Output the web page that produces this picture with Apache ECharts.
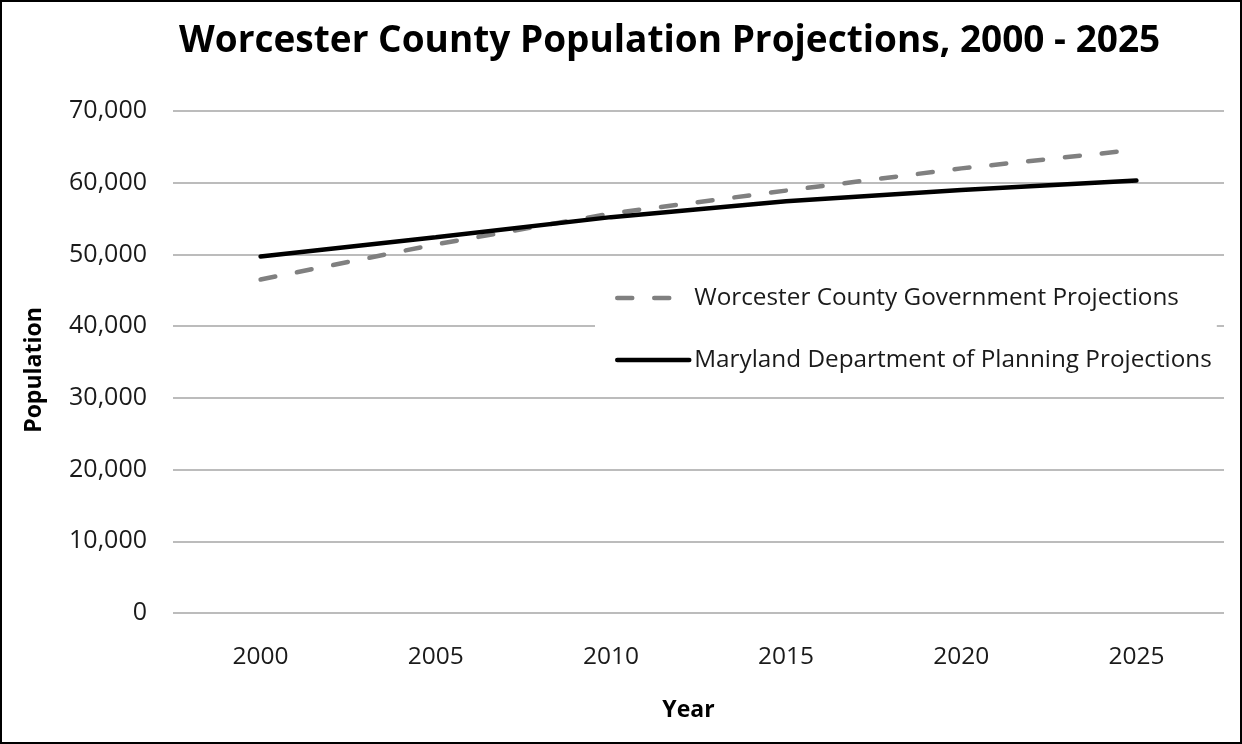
<!DOCTYPE html>
<html>
<head>
<meta charset="utf-8">
<script src="https://cdn.jsdelivr.net/npm/echarts@6/dist/echarts.min.js"></script>
<style>
html,body{margin:0;padding:0;background:#fff;}
#c{width:1242px;height:744px;box-sizing:border-box;border:2px solid #000;}
</style>
</head>
<body>
<div id="c"></div>
<script>
const years = ['2000','2005','2010','2015','2020','2025'];
const countyGov = [46500, 51400, 55700, 58900, 62000, 64600];
const mdPlanning = [49700, 52400, 55200, 57400, 59000, 60300];
const seriesNames = ['Worcester County Government Projections', 'Maryland Department of Planning Projections'];
const titleText = 'Worcester County Population Projections, 2000 - 2025';

const FONT = 'Open Sans';
const chart = echarts.init(document.getElementById('c'), null, {renderer:'canvas'});
chart.setOption({
  animation:false,
  backgroundColor:'#fff',
  title:{
    text:titleText,
    left:172, top:16,
    textStyle:{fontFamily:FONT, fontWeight:'bold', fontSize:37, color:'#000'}
  },
  grid:{left:171, right:16, top:109, bottom:129, containLabel:false},
  legend:{
    orient:'vertical',
    left:593, top:268,
    backgroundColor:'#fff',
    padding:[15,5,15,20],
    itemGap:36,
    itemWidth:72, itemHeight:14,
    itemStyle:{opacity:0, borderWidth:0},
    lineStyle:{width:4.5, cap:'round'},
    textStyle:{fontFamily:FONT, fontSize:24.3, color:'#1a1a1a', lineHeight:26, padding:[0,0,0,0]},
    data:seriesNames
  },
  xAxis:{
    type:'category', data:years, boundaryGap:true,
    name:'Year', nameLocation:'middle', nameGap:86,
    nameTextStyle:{fontFamily:FONT, fontWeight:'bold', fontSize:23, color:'#000', padding:[0,20,0,0]},
    axisLine:{show:false}, axisTick:{show:false},
    axisLabel:{fontFamily:FONT, fontSize:24.5, color:'#1a1a1a', margin:32}
  },
  yAxis:{
    type:'value', min:0, max:70000, interval:10000,
    name:'Population', nameLocation:'middle', nameGap:127,
    nameTextStyle:{fontFamily:FONT, fontWeight:'bold', fontSize:23, color:'#000', padding:[0,16,0,0]},
    axisLine:{show:false}, axisTick:{show:false},
    axisLabel:{fontFamily:FONT, fontSize:25, color:'#1a1a1a', margin:26,
      formatter:v=>v.toLocaleString('en-US')},
    splitLine:{lineStyle:{color:'#a6a6a6', width:1.5}}
  },
  series:[
    {name:seriesNames[0], type:'line', data:countyGov, symbol:'none', z:2,
     lineStyle:{color:'#808080', width:4.5, type:[15,22], cap:'round'},
     itemStyle:{color:'#808080'}},
    {name:seriesNames[1], type:'line', data:mdPlanning, symbol:'none', z:3,
     lineStyle:{color:'#000', width:4.5, cap:'round'},
     itemStyle:{color:'#000'}}
  ]
});
</script>
</body>
</html>
